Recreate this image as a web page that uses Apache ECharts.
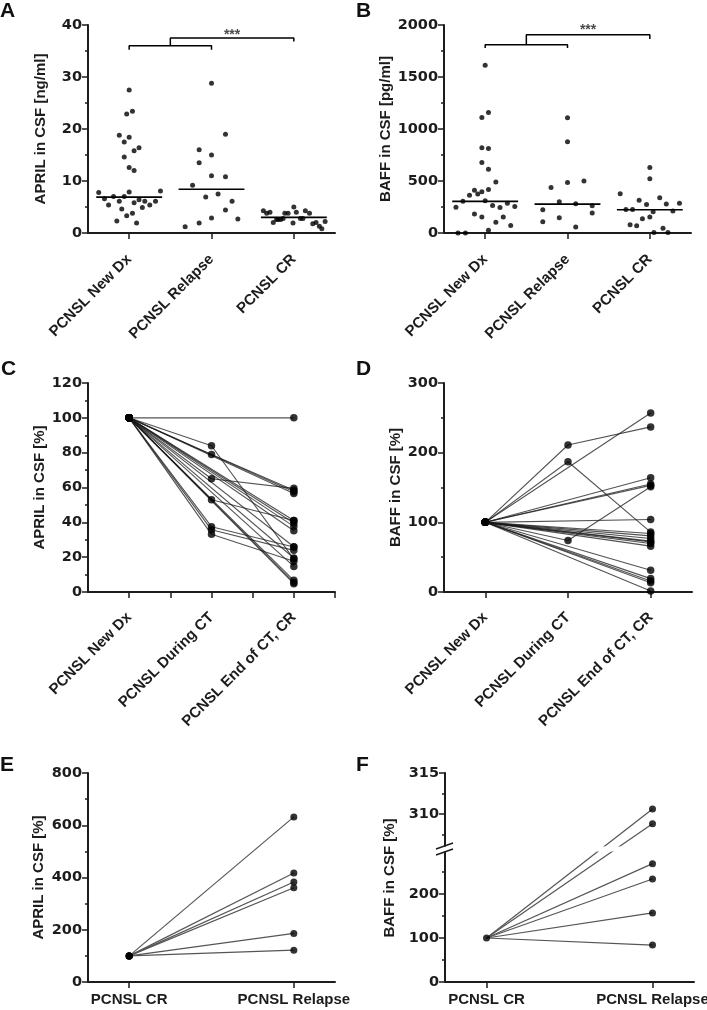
<!DOCTYPE html>
<html><head><meta charset="utf-8">
<script src="https://cdn.jsdelivr.net/npm/echarts@6/dist/echarts.min.js"></script>
<style>html,body{margin:0;padding:0;background:#fff}#c{width:707px;height:1010px}</style>
</head><body><div id="c"></div>
<script>
// ---------- DATA ----------
const groupCats = ['PCNSL New Dx', 'PCNSL Relapse', 'PCNSL CR'];
const timeCats = ['PCNSL New Dx', 'PCNSL During CT', 'PCNSL End of CT, CR'];
const pairCats = ['PCNSL CR', 'PCNSL Relapse'];

// Panel A: APRIL in CSF [ng/ml], [jittered x, value]
const aprilNewDx = [[0.63,7.8],[0.70,6.6],[0.75,5.4],[0.81,7.0],[0.88,6.1],[0.91,4.6],[0.85,2.3],[0.97,3.3],[1.04,3.8],[0.94,7.0],[1.0,7.9],[1.09,1.9],[1.06,5.8],[1.12,6.4],[1.16,4.9],[1.19,6.1],[1.25,5.4],[1.32,6.1],[1.38,8.1],[1.0,27.5],[0.97,22.9],[1.04,23.4],[0.88,18.8],[1.0,18.4],[0.94,17.5],[1.06,15.8],[1.12,16.4],[0.94,14.6],[1.0,12.6],[1.06,12.0]];
const aprilRelapse = [[1.68,1.2],[1.85,1.9],[1.77,9.2],[1.85,16.0],[1.85,13.5],[2.0,15.0],[2.0,11.0],[1.93,6.9],[2.0,2.9],[2.0,28.8],[2.08,7.5],[2.17,19.0],[2.17,10.8],[2.17,4.4],[2.25,6.1],[2.32,2.7]];
const aprilCR = [[2.63,4.3],[2.67,3.8],[2.71,4.0],[2.75,2.0],[2.79,2.6],[2.81,2.6],[2.84,2.6],[2.87,2.8],[2.89,3.8],[2.93,3.8],[2.99,1.9],[3.0,5.0],[3.03,4.0],[3.08,2.8],[3.11,2.8],[3.14,4.3],[3.19,3.8],[3.23,1.8],[3.27,2.0],[3.31,1.3],[3.34,0.8],[3.38,2.2]];
const aprilMedians = [6.9, 8.4, 3.0];
const aprilBracket1 = [[1,35.25],[1,36.0],[2,36.0],[2,35.25]];
const aprilBracket2 = [[1.5,36.0],[1.5,37.5],[3,37.5],[3,36.85]];
const aprilStar = [2.25, 38.0];

// Panel B: BAFF in CSF [pg/ml]
const baffNewDx = [[0.645,248],[0.67,0],[0.76,0],[0.73,306],[0.81,364],[0.87,412],[0.91,374],[0.96,397],[0.87,182],[0.96,155],[1.0,310],[1.04,419],[1.04,26],[1.09,265],[1.13,490],[1.13,103],[1.18,245],[1.22,155],[1.27,287],[1.31,71],[1.36,255],[1.0,1613],[0.96,1110],[1.04,1158],[0.96,819],[1.04,813],[0.96,677],[1.04,613]];
const baffRelapse = [[1.70,109],[1.70,224],[1.80,438],[1.90,301],[1.90,147],[2.0,1107],[2.0,877],[2.0,486],[2.10,282],[2.10,58],[2.20,499],[2.30,262],[2.30,192]];
const baffCR = [[2.64,378],[2.71,227],[2.79,227],[2.76,80],[2.84,70],[2.87,314],[2.91,138],[2.96,275],[3.0,630],[3.0,522],[3.0,154],[3.04,205],[3.12,339],[3.16,45],[3.20,278],[3.28,211],[3.36,285],[3.05,4],[3.22,4]];
const baffMedians = [304, 278, 224];
const baffBracket1 = [[1,1779],[1,1811],[2,1811],[2,1779]];
const baffBracket2 = [[1.5,1811],[1.5,1907],[3,1907],[3,1865]];
const baffStar = [2.25, 1946];

// Panel C: APRIL in CSF [%] over therapy (one entry per patient)
const aprilC_NewDx  = [100,100,100,100,100,100,100,100,100,100,100,100,100,100,100,100,100,100,100,100];
const aprilC_During = [null,84,79,65,53,37.5,35.7,33.1,null,null,null,null,null,null,null,null,null,null,null,null];
const aprilC_End    = [100,18.9,58.4,59.5,41.1,25.8,23.9,17.6,56.5,39.6,37.7,35.2,14.7,6.7,5.5,4.8,41.1,19.5,26.0,57.5];

// Panel D: BAFF in CSF [%] over therapy
const baffD_NewDx  = [100,100,100,100,100,100,100,100,100,100,100,100,100,100,100,100,100,100,100,100];
const baffD_During = [211,187,74,null,null,null,null,null,null,null,null,null,null,null,null,null,null,null,null,null];
const baffD_End    = [237,86,151,257,164,155,104,80.6,76.8,73,69.6,65.8,31.2,19.2,15.8,13.4,1.4,84,153,72];

// Panel E: APRIL in CSF [%] CR -> Relapse
const aprilE_CR = [100,100,100,100,100,100];
const aprilE_Relapse = [632,417,383,361,186,122];

// Panel F: BAFF in CSF [%] CR -> Relapse (broken axis)
const baffF_CR = [100,100,100,100,100,100];
const baffF_Relapse = [310.6,308.8,269,234,157,84];
const fBreakValue = 300;

// ---------- STYLE ----------
const FONT = '"Liberation Sans", Arial, Helvetica, sans-serif';
const NUMFONT = '"DejaVu Sans", "Liberation Sans", sans-serif';
const INK = '#1c1c1c';

const chart = echarts.init(document.getElementById('c'), null, {renderer: 'canvas'});

const numLabel = {fontSize: 14.5, fontWeight: 'bold', fontFamily: NUMFONT, color: INK, margin: 6,
  formatter: function (v) { return String(v); }};

function yAx(gi, min, max, interval, name, nameGap, extra) {
  return Object.assign({
    type: 'value', gridIndex: gi, min: min, max: max, interval: interval,
    name: name, nameLocation: 'middle', nameGap: nameGap,
    nameTextStyle: {fontSize: 15, fontWeight: 'bold', fontFamily: FONT, color: INK},
    axisLine: {show: true, onZero: false, lineStyle: {color: INK, width: 2}},
    axisTick: {show: true, length: 6, lineStyle: {color: INK, width: 1.5}},
    minorTick: {show: true, splitNumber: 2, length: 3, lineStyle: {color: INK, width: 1.5}},
    axisLabel: Object.assign({}, numLabel),
    splitLine: {show: false}, minorSplitLine: {show: false}
  }, extra || {});
}
function xAx(gi, min, max, tickVals, labelVals, names, rotate, margin, show) {
  return {
    type: 'value', gridIndex: gi, min: min, max: max, show: show !== false,
    axisLine: {show: true, onZero: false, lineStyle: {color: INK, width: 2}},
    axisTick: {show: true, customValues: tickVals, length: 6, lineStyle: {color: INK, width: 1.5}},
    axisLabel: {show: true, customValues: labelVals, rotate: rotate,
      formatter: function (v) { return names[Math.round(v) - 1] || ''; },
      fontSize: 15, fontWeight: 'bold', fontFamily: FONT, color: INK, margin: margin},
    splitLine: {show: false}, minorTick: {show: false}
  };
}
const tickStyleF = {show: true, length: 6, lineStyle: {color: INK, width: 1.5}};

const grids = [
  {left: 88,  top: 25,  width: 247, height: 208},
  {left: 444, top: 25,  width: 247, height: 208},
  {left: 88,  top: 383, width: 247, height: 209},
  {left: 444, top: 383, width: 248, height: 209},
  {left: 88,  top: 773, width: 247, height: 209},
  {left: 445, top: 850, width: 249, height: 132},
  {left: 445, top: 773, width: 249, height: 82}
].map(g => Object.assign({containLabel: false, outerBoundsMode: 'none'}, g));

const xAxes = [
  xAx(0, 0.5, 3.5, [1,2,3], [1,2,3], groupCats, 45, 24),
  xAx(1, 0.5, 3.5, [1,2,3], [1,2,3], groupCats, 45, 24),
  xAx(2, 0.5, 3.5, [1,1.5,2,2.5,3,3.5], [1,2,3], timeCats, 45, 23),
  xAx(3, 0.5, 3.5, [1,2,3], [1,2,3], timeCats, 45, 23),
  xAx(4, 0.75, 2.25, [1,2], [1,2], pairCats, 0, 10),
  xAx(5, 0.75, 2.25, [1,2], [1,2], pairCats, 0, 10),
  xAx(6, 0.75, 2.25, [1,2], [1,2], pairCats, 0, 10, false)
];
const yAxes = [
  yAx(0, 0, 40, 10, 'APRIL in CSF [ng/ml]', 40),
  yAx(1, 0, 2000, 500, 'BAFF in CSF [pg/ml]', 47),
  yAx(2, 0, 120, 20, 'APRIL in CSF [%]', 37),
  yAx(3, 0, 300, 100, 'BAFF in CSF [%]', 37),
  yAx(4, 0, 800, 200, 'APRIL in CSF [%]', 42),
  yAx(5, 0, 300, 100, '', 0, {
    axisTick: Object.assign({customValues: [0,100,200]}, tickStyleF),
    axisLabel: Object.assign({customValues: [0,100,200]}, numLabel)
  }),
  yAx(6, 305, 315, 5, '', 0, {
    axisTick: Object.assign({customValues: [310,315]}, tickStyleF),
    axisLabel: Object.assign({customValues: [310,315]}, numLabel)
  })
];

const series = [];
// --- A & B scatter with medians and brackets
function scatterPanel(idx, groups, medians, br1, br2, star, size) {
  series.push({type: 'scatter', xAxisIndex: idx, yAxisIndex: idx, symbolSize: size,
    itemStyle: {color: '#000'}, data: [].concat(groups[0], groups[1], groups[2]), z: 3});
  medians.forEach(function (m, i) {
    series.push({type: 'line', xAxisIndex: idx, yAxisIndex: idx, symbol: 'none',
      lineStyle: {color: '#000', width: 1.6}, data: [[i + 1 - 0.4, m], [i + 1 + 0.4, m]], z: 2});
  });
  [br1, br2].forEach(function (b) {
    series.push({type: 'line', xAxisIndex: idx, yAxisIndex: idx, symbol: 'none',
      lineStyle: {color: '#000', width: 1.5}, data: b});
  });
  series.push({type: 'scatter', xAxisIndex: idx, yAxisIndex: idx, symbolSize: 1,
    itemStyle: {color: 'rgba(0,0,0,0)'}, data: [star],
    label: {show: true, position: 'inside', formatter: '***', fontSize: 14, fontWeight: 'bold', fontFamily: FONT, color: INK}});
}
scatterPanel(0, [aprilNewDx, aprilRelapse, aprilCR], aprilMedians, aprilBracket1, aprilBracket2, aprilStar, 5);
scatterPanel(1, [baffNewDx, baffRelapse, baffCR], baffMedians, baffBracket1, baffBracket2, baffStar, 5);

// --- C & D paired lines
function pairedPanel(idx, a, b, c, lineColor) {
  const dots = [];
  c.forEach(function (_, i) {
    const pts = [[1, a[i]]];
    if (b[i] != null) pts.push([2, b[i]]);
    pts.push([3, c[i]]);
    pts.forEach(p => dots.push(p));
    series.push({type: 'line', xAxisIndex: idx, yAxisIndex: idx, showSymbol: false, symbol: 'none',
      lineStyle: {color: lineColor, width: 1.1}, data: pts, z: 1});
  });
  series.push({type: 'scatter', xAxisIndex: idx, yAxisIndex: idx, symbolSize: 7.5,
    itemStyle: {color: '#000'}, data: dots, z: 3});
}
pairedPanel(2, aprilC_NewDx, aprilC_During, aprilC_End, 'rgba(25,25,25,0.75)');
pairedPanel(3, baffD_NewDx, baffD_During, baffD_End, 'rgba(25,25,25,0.75)');

// --- E
(function () {
  const dots = [];
  aprilE_Relapse.forEach(function (v, i) {
    dots.push([1, aprilE_CR[i]], [2, v]);
    series.push({type: 'line', xAxisIndex: 4, yAxisIndex: 4, symbol: 'none',
      lineStyle: {color: '#555', width: 1.2}, data: [[1, aprilE_CR[i]], [2, v]], z: 1});
  });
  series.push({type: 'scatter', xAxisIndex: 4, yAxisIndex: 4, symbolSize: 7,
    itemStyle: {color: '#000'}, data: dots, z: 3});
})();

// --- F (broken axis: lower grid 5, upper grid 6)
function toF(x, v) {
  return v > fBreakValue
    ? chart.convertToPixel({xAxisIndex: 6, yAxisIndex: 6}, [x, v])
    : chart.convertToPixel({xAxisIndex: 5, yAxisIndex: 5}, [x, v]);
}
series.push({
  type: 'custom', coordinateSystem: 'none', z: 1, silent: true,
  data: baffF_Relapse.map((v, i) => [i]),
  renderItem: function (params) {
    const i = params.dataIndex;
    const p0 = toF(1, baffF_CR[i]);
    const p1 = toF(2, baffF_Relapse[i]);
    return {type: 'line', shape: {x1: p0[0], y1: p0[1], x2: p1[0], y2: p1[1]},
      style: {stroke: '#555', lineWidth: 1.2}};
  }
});
series.push({type: 'scatter', xAxisIndex: 5, yAxisIndex: 5, symbolSize: 7, itemStyle: {color: '#000'}, z: 3,
  data: [[1, baffF_CR[0]]].concat(baffF_Relapse.filter(v => v <= fBreakValue).map(v => [2, v]))});
series.push({type: 'scatter', xAxisIndex: 6, yAxisIndex: 6, symbolSize: 7, itemStyle: {color: '#000'}, z: 3,
  data: baffF_Relapse.filter(v => v > fBreakValue).map(v => [2, v])});

const letterFont = 'bold 21px ' + FONT;
function letter(t, x, y) {
  return {type: 'text', x: x, y: y, z: 100, style: {text: t, font: letterFont, fill: '#111', align: 'left', verticalAlign: 'middle'}};
}
const graphic = [
  letter('A', 0, 11), letter('B', 356, 11),
  letter('C', 1, 369), letter('D', 356, 369),
  letter('E', 0, 765), letter('F', 356, 765),
  {type: 'text', x: 390, y: 878, rotation: Math.PI / 2, z: 100,
    style: {text: 'BAFF in CSF [%]', font: 'bold 15px ' + FONT, fill: INK, align: 'center', verticalAlign: 'middle'}},
  {type: 'rect', z: 100, shape: {x: 440, y: 846.5, width: 260, height: 5}, style: {fill: '#fff'}},
  {type: 'line', z: 101, shape: {x1: 436, y1: 849, x2: 453, y2: 843}, style: {stroke: INK, lineWidth: 1.5}},
  {type: 'line', z: 101, shape: {x1: 436, y1: 855, x2: 453, y2: 849}, style: {stroke: INK, lineWidth: 1.5}}
];

chart.setOption({
  animation: false,
  backgroundColor: '#fff',
  textStyle: {fontFamily: FONT},
  grid: grids, xAxis: xAxes, yAxis: yAxes, series: series, graphic: graphic
});
</script></body></html>
